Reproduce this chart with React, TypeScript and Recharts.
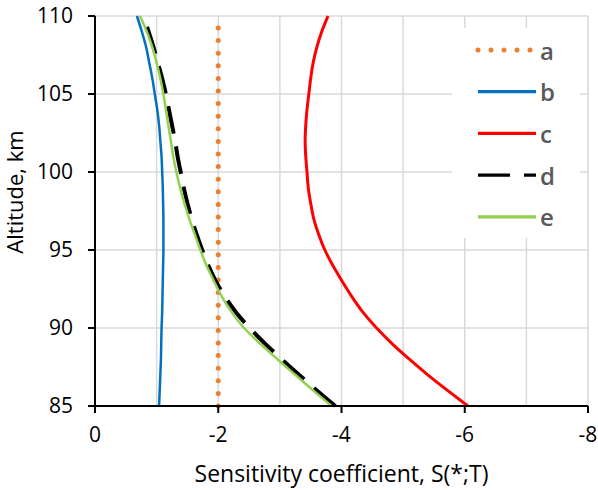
import { CartesianGrid, Legend, Line, LineChart, ReferenceLine, XAxis, YAxis } from "recharts";

// altitude, km (one row per km)
const altitudes = [
  85, 86, 87, 88, 89, 90, 91, 92, 93, 94, 95, 96, 97, 98, 99, 100, 101, 102, 103, 104, 105, 106, 107,
  108, 109, 110,
];

// sensitivity coefficient S(*;T) for each curve
const seriesA = [
  -2, -2, -2, -2, -2, -2, -2, -2, -2, -2, -2, -2, -2, -2, -2, -2, -2, -2, -2, -2, -2, -2, -2, -2, -2, -2,
];
const seriesB = [
  -1.04, -1.05, -1.06, -1.07, -1.075, -1.08, -1.09, -1.095, -1.1, -1.105, -1.11, -1.11, -1.11, -1.105,
  -1.1, -1.09, -1.08, -1.06, -1.04, -1.01, -0.97, -0.93, -0.88, -0.83, -0.76, -0.68,
];
const seriesC = [
  -6.05, -5.72, -5.4, -5.1, -4.82, -4.57, -4.35, -4.17, -4.01, -3.86, -3.73, -3.63, -3.55, -3.5, -3.46,
  -3.44, -3.42, -3.41, -3.42, -3.44, -3.47, -3.5, -3.54, -3.6, -3.68, -3.78,
];
const seriesD = [
  -3.9, -3.6, -3.31, -3.03, -2.76, -2.51, -2.29, -2.11, -1.96, -1.84, -1.74, -1.65, -1.57, -1.5, -1.44,
  -1.39, -1.34, -1.3, -1.25, -1.2, -1.15, -1.09, -1.02, -0.95, -0.87, -0.78,
];
const seriesE = [
  -3.84, -3.54, -3.25, -2.96, -2.68, -2.42, -2.22, -2.06, -1.93, -1.81, -1.71, -1.62, -1.53, -1.45, -1.38,
  -1.32, -1.27, -1.23, -1.19, -1.15, -1.11, -1.06, -1.0, -0.93, -0.84, -0.73,
];

const xTicks = [0, -2, -4, -6, -8];
const xMinorGrid = [-1, -3, -5, -7];
const yTicks = [85, 90, 95, 100, 105, 110];

const seriesNames = ["a", "b", "c", "d", "e"];
const seriesColors = ["#ED7D31", "#0070C0", "#FF0000", "#000000", "#92D050"];

const FONT = "'Open Sans', 'Noto Sans', sans-serif";

// line look per series (index matches seriesNames)
const lineStyles = [
  { width: 5, dash: "0 12.6", cap: "round" as const },
  { width: 2.5, dash: undefined, cap: "butt" as const },
  { width: 3, dash: undefined, cap: "butt" as const },
  { width: 4, dash: "28 13", cap: "butt" as const },
  { width: 2.5, dash: undefined, cap: "butt" as const },
];

function LegendBox() {
  return (
    <svg width={128} height={210} style={{ display: "block" }}>
      {seriesNames.map((name, i) => {
        const y = 22 + i * 41.7;
        const s = lineStyles[i];
        return (
          <g key={name}>
            <line
              x1={26}
              x2={i === 0 ? 82 : 84}
              y1={y}
              y2={y}
              stroke={seriesColors[i]}
              strokeWidth={i === 0 ? 5 : 3.2}
              strokeDasharray={i === 0 ? "0 13" : i === 3 ? "32 14" : undefined}
              strokeLinecap={s.cap}
            />
            <text
              x={88}
              y={y}
              dominantBaseline="central"
              fontSize={24}
              fontWeight={600}
              fontFamily={FONT}
              fill="#595959"
            >
              {name}
            </text>
          </g>
        );
      })}
    </svg>
  );
}

export default function App() {
  const data = altitudes.map((alt, i) => ({
    alt,
    a: seriesA[i],
    b: seriesB[i],
    c: seriesC[i],
    d: seriesD[i],
    e: seriesE[i],
  }));

  return (
    <div
      style={{
        position: "absolute",
        left: 0,
        top: 0,
        width: 598,
        height: 490,
        background: "#fff",
        fontFamily: FONT,
      }}
    >
      <LineChart
        layout="vertical"
        width={598}
        height={490}
        data={data}
        margin={{ top: 16, right: 10, bottom: 0, left: 0 }}
      >
        <CartesianGrid stroke="#d9d9d9" strokeWidth={1.5} />
        {xMinorGrid.map((v) => (
          <ReferenceLine key={v} x={v} stroke="#d9d9d9" strokeWidth={1.5} />
        ))}
        <XAxis
          type="number"
          domain={[-8, 0]}
          reversed
          ticks={xTicks}
          height={84}
          tickSize={7}
          tickMargin={14}
          axisLine={{ stroke: "#000", strokeWidth: 2 }}
          tickLine={{ stroke: "#000", strokeWidth: 2 }}
          tick={{ fontSize: 21, fill: "#000", fontFamily: FONT }}
          label={{
            value: "Sensitivity coefficient, S(*;T)",
            position: "insideBottom",
            offset: 8,
            fontSize: 23,
            fill: "#000",
            fontFamily: FONT,
          }}
        />
        <XAxis
          xAxisId="top"
          orientation="top"
          type="number"
          domain={[-8, 0]}
          reversed
          height={0}
          tick={false}
          tickLine={false}
          axisLine={{ stroke: "#000", strokeWidth: 2 }}
        />
        <YAxis
          type="number"
          dataKey="alt"
          domain={[85, 110]}
          reversed
          ticks={yTicks}
          width={95}
          tickSize={7}
          tickMargin={15}
          axisLine={{ stroke: "#000", strokeWidth: 2 }}
          tickLine={{ stroke: "#000", strokeWidth: 2 }}
          tick={{ fontSize: 21, fill: "#000", fontFamily: FONT }}
          label={{
            content: () => (
              <text
                transform="translate(14,192) rotate(-90)"
                textAnchor="middle"
                dominantBaseline="central"
                fontSize={22}
                fontFamily={FONT}
                fill="#000"
              >
                Altitude, km
              </text>
            ),
          }}
        />
        <YAxis
          yAxisId="right"
          orientation="right"
          type="number"
          domain={[85, 110]}
          reversed
          width={0}
          tick={false}
          tickLine={false}
          axisLine={{ stroke: "#000", strokeWidth: 2 }}
        />
        {seriesNames.map((name, i) => (
          <Line
            key={name}
            dataKey={name}
            type="monotone"
            stroke={seriesColors[i]}
            strokeWidth={lineStyles[i].width}
            strokeDasharray={lineStyles[i].dash}
            strokeLinecap={lineStyles[i].cap}
            dot={false}
            activeDot={false}
            isAnimationActive={false}
          />
        ))}
        <Legend
          layout="vertical"
          align="center"
          verticalAlign="middle"
          content={() => <LegendBox />}
          wrapperStyle={{ left: 452, top: 28, width: 128, height: 210, background: "#fff" }}
        />
      </LineChart>
    </div>
  );
}
